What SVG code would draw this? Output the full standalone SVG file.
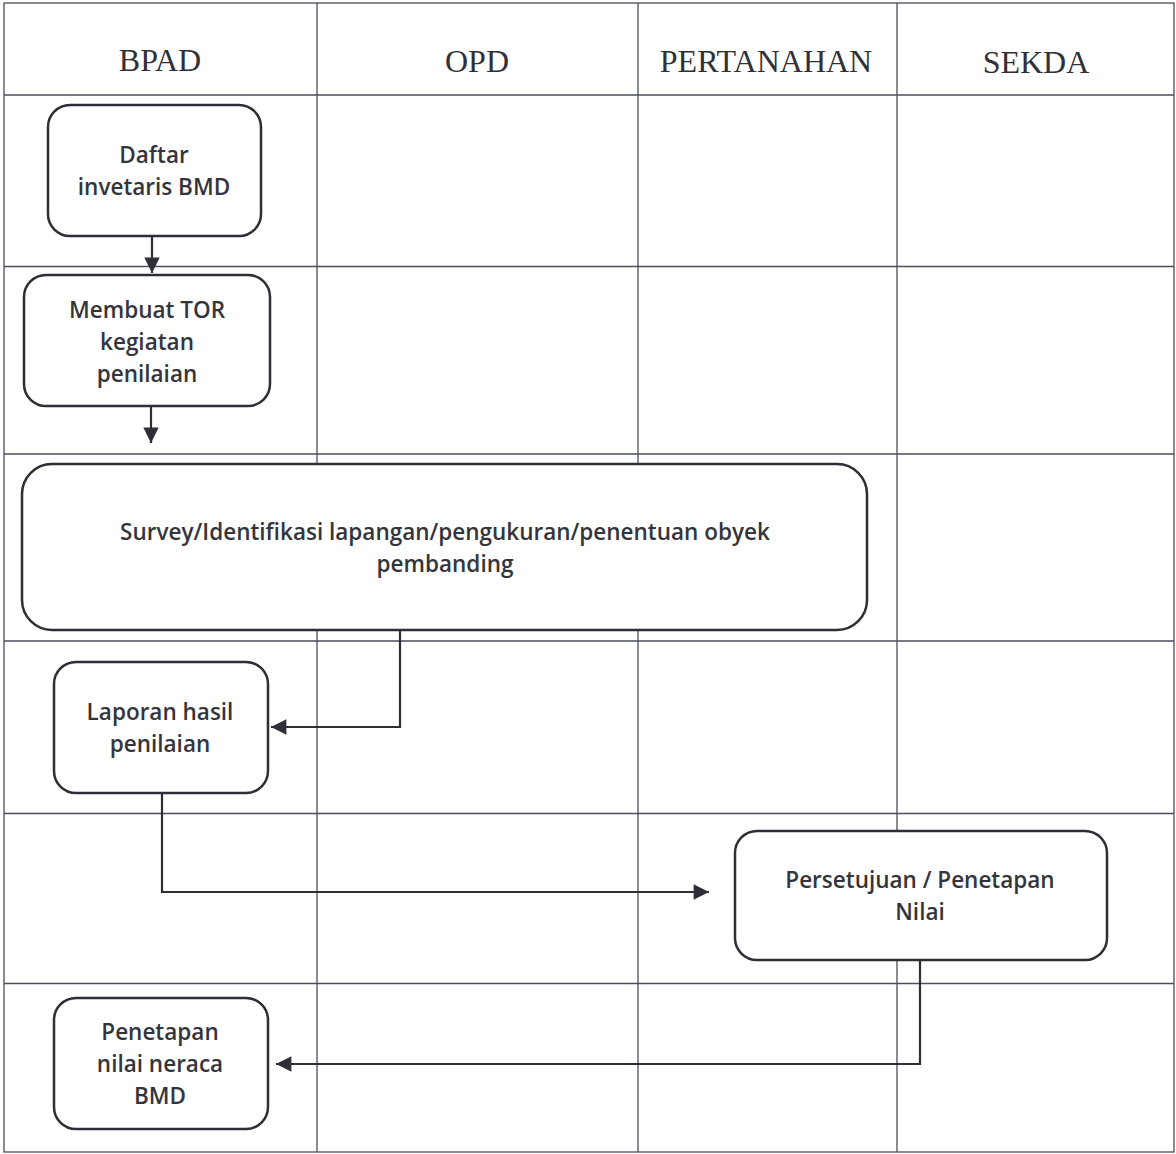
<svg xmlns="http://www.w3.org/2000/svg" width="1176" height="1154" viewBox="0 0 1176 1154">
<style>
.grid{stroke:#4a4d5c;stroke-width:1.3;fill:none}
.hdr{font-family:"Liberation Serif","Times New Roman",serif;font-size:32px;fill:#2f3038;text-anchor:middle}
.box{fill:#ffffff;stroke:#2e2f36;stroke-width:2.5}
.lbl{font-family:"Open Sans",Lato,sans-serif;font-size:22.5px;font-weight:600;fill:#34353c;text-anchor:middle}
.conn{fill:none;stroke:#2e2f36;stroke-width:2.2}
</style>
<defs>
<marker id="ah" viewBox="0 0 10 10" refX="10" refY="5" markerWidth="7.5" markerHeight="7" markerUnits="strokeWidth" orient="auto">
<path d="M0,0 L10,5 L0,10 z" fill="#2e2f36"/>
</marker>
</defs>
<rect width="1176" height="1154" fill="#ffffff"/>
<g id="grid">
<rect class="grid" x="4" y="3" width="1170" height="1149"/>
<line class="grid" x1="317" y1="3" x2="317" y2="1152"/>
<line class="grid" x1="638" y1="3" x2="638" y2="1152"/>
<line class="grid" x1="897" y1="3" x2="897" y2="1152"/>
<line class="grid" x1="4" y1="95" x2="1174" y2="95"/>
<line class="grid" x1="4" y1="266.5" x2="1174" y2="266.5"/>
<line class="grid" x1="4" y1="454" x2="1174" y2="454"/>
<line class="grid" x1="4" y1="641" x2="1174" y2="641"/>
<line class="grid" x1="4" y1="813.5" x2="1174" y2="813.5"/>
<line class="grid" x1="4" y1="983.5" x2="1174" y2="983.5"/>
</g>
<g id="headers">
<text class="hdr" x="160" y="71">BPAD</text>
<text class="hdr" x="477" y="72">OPD</text>
<text class="hdr" x="766" y="72">PERTANAHAN</text>
<text class="hdr" x="1036" y="73">SEKDA</text>
</g>
<g id="connectors">
<line class="conn" x1="152" y1="236" x2="152" y2="273" marker-end="url(#ah)"/>
<line class="conn" x1="151" y1="406" x2="151" y2="443" marker-end="url(#ah)"/>
<polyline class="conn" points="400,630 400,727 271,727" marker-end="url(#ah)"/>
<polyline class="conn" points="162,793 162,892 709,892" marker-end="url(#ah)"/>
<polyline class="conn" points="920,960 920,1064 276,1064" marker-end="url(#ah)"/>
</g>
<g id="n1">
<rect class="box" x="48" y="105" width="213" height="131" rx="22"/>
<text class="lbl" x="154" y="163">Daftar</text>
<text class="lbl" x="154" y="195">invetaris BMD</text>
</g>
<g id="n2">
<rect class="box" x="24" y="275" width="246" height="131" rx="22"/>
<text class="lbl" x="147" y="318">Membuat TOR</text>
<text class="lbl" x="147" y="350">kegiatan</text>
<text class="lbl" x="147" y="382">penilaian</text>
</g>
<g id="n3">
<rect class="box" x="22" y="464" width="845" height="166" rx="30"/>
<text class="lbl" x="445" y="540">Survey/Identifikasi lapangan/pengukuran/penentuan obyek</text>
<text class="lbl" x="445" y="572">pembanding</text>
</g>
<g id="n4">
<rect class="box" x="54" y="662" width="214" height="131" rx="22"/>
<text class="lbl" x="160" y="720">Laporan hasil</text>
<text class="lbl" x="160" y="752">penilaian</text>
</g>
<g id="n5">
<rect class="box" x="735" y="831" width="372" height="129" rx="22"/>
<text class="lbl" x="920" y="888">Persetujuan / Penetapan</text>
<text class="lbl" x="920" y="920">Nilai</text>
</g>
<g id="n6">
<rect class="box" x="54" y="998" width="214" height="131" rx="22"/>
<text class="lbl" x="160" y="1040">Penetapan</text>
<text class="lbl" x="160" y="1072">nilai neraca</text>
<text class="lbl" x="160" y="1104">BMD</text>
</g>
</svg>
